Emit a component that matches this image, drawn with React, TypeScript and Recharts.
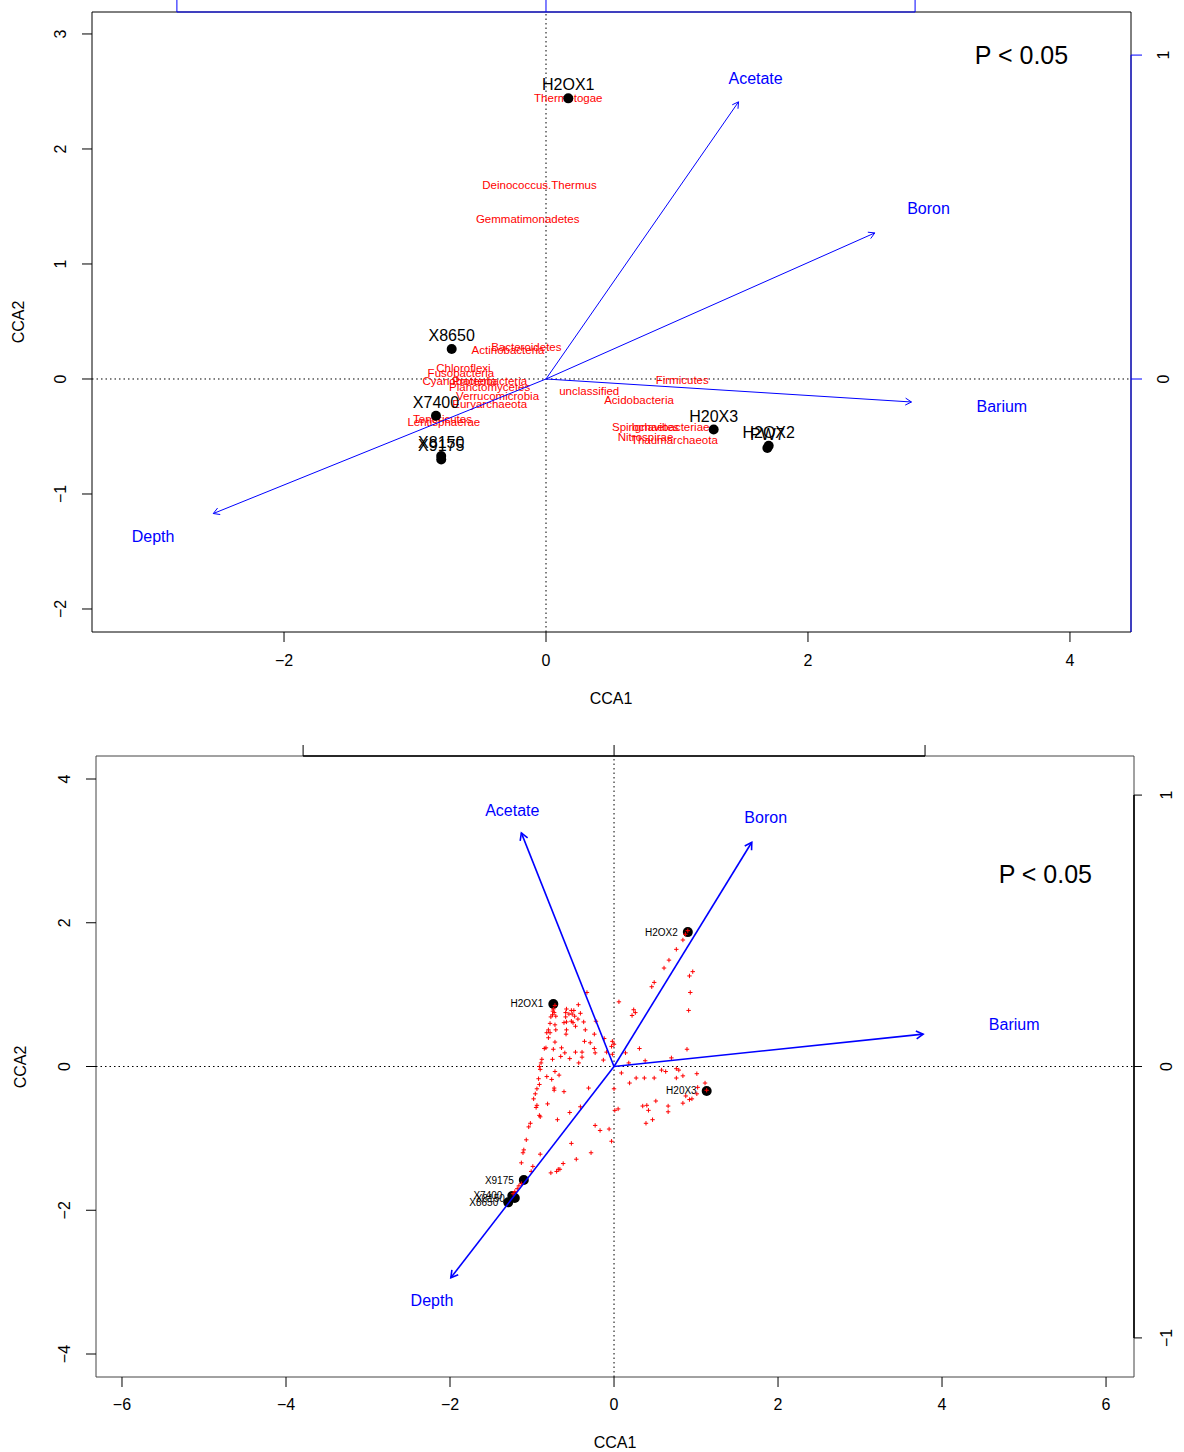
import React from 'react';
import {
  ScatterChart,
  Scatter,
  XAxis,
  YAxis,
  ReferenceLine,
  ReferenceArea,
  ReferenceDot,
} from 'recharts';

const FONT = '"Liberation Sans", Arial, Helvetica, sans-serif';
const BLUE = '#0000ff';
const RED = '#ff0000';

// ---------- upper panel (phylum scores) ----------
const upperSites = [
  { name: 'H2OX1', x: 0.17, y: 2.44 },
  { name: 'X8650', x: -0.72, y: 0.26 },
  { name: 'X7400', x: -0.84, y: -0.32 },
  { name: 'X8150', x: -0.8, y: -0.67 },
  { name: 'X9175', x: -0.8, y: -0.7 },
  { name: 'H20X3', x: 1.28, y: -0.44 },
  { name: 'H2OX2', x: 1.7, y: -0.58 },
  { name: 'PW7', x: 1.69, y: -0.6 },
];

const upperPhyla = [
  { name: 'Thermotogae', x: 0.17, y: 2.44 },
  { name: 'Deinococcus.Thermus', x: -0.05, y: 1.69 },
  { name: 'Gemmatimonadetes', x: -0.14, y: 1.39 },
  { name: 'Bacteroidetes', x: -0.15, y: 0.28 },
  { name: 'Actinobacteria', x: -0.29, y: 0.25 },
  { name: 'Chloroflexi', x: -0.63, y: 0.1 },
  { name: 'Fusobacteria', x: -0.65, y: 0.05 },
  { name: 'Cyanobacteria', x: -0.66, y: -0.02 },
  { name: 'Proteobacteria', x: -0.43, y: -0.02 },
  { name: 'Planctomycetes', x: -0.43, y: -0.07 },
  { name: 'Verrucomicrobia', x: -0.37, y: -0.15 },
  { name: 'Euryarchaeota', x: -0.43, y: -0.22 },
  { name: 'Tenericutes', x: -0.79, y: -0.35 },
  { name: 'Lentisphaerae', x: -0.78, y: -0.37 },
  { name: 'unclassified', x: 0.33, y: -0.1 },
  { name: 'Firmicutes', x: 1.04, y: -0.01 },
  { name: 'Acidobacteria', x: 0.71, y: -0.18 },
  { name: 'Spirochaetes', x: 0.76, y: -0.42 },
  { name: 'Ignavibacteriae', x: 0.95, y: -0.42 },
  { name: 'Nitrospirae', x: 0.76, y: -0.5 },
  { name: 'Thaumarchaeota', x: 0.98, y: -0.53 },
];

const upperEnv = [
  { name: 'Acetate', x: 1.47, y: 2.41 },
  { name: 'Boron', x: 2.51, y: 1.27 },
  { name: 'Barium', x: 2.79, y: -0.2 },
  { name: 'Depth', x: -2.54, y: -1.17 },
];

const upperEnvLabels = [
  { name: 'Acetate', x: 1.6, y: 2.61 },
  { name: 'Boron', x: 2.92, y: 1.48 },
  { name: 'Barium', x: 3.48, y: -0.24 },
  { name: 'Depth', x: -3.0, y: -1.37 },
];

// ---------- lower panel (OTU scores) ----------
const lowerSites = [
  { name: 'H2OX2', x: 0.9, y: 1.87 },
  { name: 'H2OX1', x: -0.74, y: 0.87 },
  { name: 'H20X3', x: 1.13, y: -0.34 },
  { name: 'X9175', x: -1.1, y: -1.58 },
  { name: 'X7400', x: -1.24, y: -1.8 },
  { name: 'X8150', x: -1.21, y: -1.83 },
  { name: 'X8650', x: -1.29, y: -1.89 },
];

const lowerEnv = [
  { name: 'Acetate', x: -1.13, y: 3.25 },
  { name: 'Boron', x: 1.68, y: 3.12 },
  { name: 'Barium', x: 3.77, y: 0.45 },
  { name: 'Depth', x: -1.99, y: -2.94 },
];

const lowerEnvLabels = [
  { name: 'Acetate', x: -1.24, y: 3.57 },
  { name: 'Boron', x: 1.85, y: 3.46 },
  { name: 'Barium', x: 4.88, y: 0.59 },
  { name: 'Depth', x: -2.22, y: -3.25 },
];

const lowerOtus: [number, number][] = [
  [0.49, 1.17], [0.46, 1.11], [-0.33, 1.03], [0.93, 1.03], [0.06, 0.9],
  [-0.72, 0.85], [-0.74, 0.8], [-0.745, 0.77], [-0.73, 0.75], [-0.75, 0.72],
  [-0.58, 0.8], [-0.435, 0.86], [-0.52, 0.78], [-0.49, 0.78], [-0.59, 0.75],
  [-0.55, 0.73], [-0.51, 0.73], [-0.41, 0.74], [-0.59, 0.69], [-0.48, 0.7],
  [-0.44, 0.66], [-0.52, 0.63], [-0.37, 0.62], [-0.58, 0.62], [-0.61, 0.61],
  [-0.5, 0.61], [-0.47, 0.56], [-0.77, 0.69], [-0.71, 0.7], [-0.78, 0.6],
  [-0.72, 0.58], [-0.8, 0.51], [-0.82, 0.47], [-0.78, 0.47], [-0.8, 0.4],
  [-0.71, 0.51], [-0.58, 0.51], [-0.585, 0.45], [-0.35, 0.51], [-0.22, 0.63],
  [-0.24, 0.45], [-0.12, 0.39], [-0.02, 0.35], [0.0, 0.31], [-0.03, 0.28],
  [-0.36, 0.35], [-0.29, 0.33], [-0.72, 0.34], [-0.83, 0.26], [-0.85, 0.25],
  [-0.74, 0.24], [-0.64, 0.26], [-0.47, 0.2], [-0.39, 0.2], [-0.6, 0.19],
  [-0.65, 0.14], [-0.54, 0.11], [-0.39, 0.13], [-0.23, 0.19], [-0.24, 0.25],
  [-0.09, 0.2], [-0.02, 0.17], [-0.13, 0.09], [-0.43, 0.05], [-0.75, 0.1],
  [-0.88, 0.1], [-0.89, 0.05], [-0.91, 0.0], [-0.9, -0.04], [-0.72, -0.07],
  [-0.67, -0.12], [-0.82, -0.14], [-0.92, -0.17], [-0.91, -0.25], [-0.94, -0.31],
  [-0.76, -0.18], [-0.73, -0.3], [-0.73, -0.33], [-0.61, -0.35], [-0.96, -0.38],
  [-0.98, -0.45], [-0.94, -0.54], [-0.95, -0.57], [-0.81, -0.52], [-0.41, -0.56],
  [-0.91, -0.68], [-0.9, -0.7], [-0.54, -0.64], [-0.69, -0.74], [-1.02, -0.79],
  [-1.04, -0.84], [-1.07, -1.02], [-1.1, -1.16], [-1.11, -1.2], [-0.9, -1.22],
  [-0.52, -1.07], [-0.28, -1.2], [-0.46, -1.29], [-0.62, -1.35], [-0.68, -1.43],
  [-0.7, -1.46], [-0.66, -1.43], [-0.77, -1.48], [-1.13, -1.34], [-0.99, -1.39],
  [-1.01, -1.46], [-0.31, -0.3], [-0.23, -0.82], [-0.17, -0.89], [-0.06, -0.87],
  [-0.03, -1.04], [0.01, -0.61], [0.05, -0.59], [0.0, -0.31],
  [0.24, 0.79], [0.26, 0.75], [0.22, 0.71], [0.31, 0.25], [0.14, 0.19],
  [0.18, 0.05], [0.38, 0.08], [0.7, 0.12], [0.89, 0.24], [0.91, 0.78],
  [0.58, -0.05], [0.63, -0.07], [0.76, -0.03], [0.79, -0.05], [0.84, -0.13],
  [0.76, -0.16], [1.01, -0.1], [1.11, -0.23], [0.27, -0.16], [0.37, -0.16],
  [0.49, -0.16], [0.09, -0.09], [0.19, -0.23], [0.875, -0.41], [0.92, -0.46],
  [0.95, -0.45], [0.84, -0.51], [0.51, -0.48], [0.4, -0.54], [0.35, -0.55],
  [0.42, -0.61], [0.66, -0.55], [0.66, -0.63], [0.47, -0.74], [0.39, -0.79],
  [1.02, -0.29], [1.01, -0.38], [1.13, -0.33],
  [0.9, 1.89], [0.87, 1.84], [0.84, 1.76], [0.76, 1.63], [0.67, 1.48],
  [0.61, 1.37], [0.96, 1.32], [0.92, 1.26],
  [-1.23, -1.77], [-1.21, -1.74], [-1.18, -1.7], [-1.16, -1.66], [-1.13, -1.63],
];

const lowerOtuPoints = lowerOtus.map(([x, y]) => ({ x, y }));

// ---------- helpers ----------
const fmt = (v: number) => (v < 0 ? '\u2212' + Math.abs(v) : String(v));

const xTick = (p: any) => (
  <text x={p.x} y={p.y} dy="0.71em" textAnchor="middle" fontSize={16} fontFamily={FONT} fill="#000">
    {fmt(p.payload.value)}
  </text>
);

const yTick = (p: any) => (
  <text
    x={p.x}
    y={p.y}
    textAnchor="middle"
    fontSize={16}
    fontFamily={FONT}
    fill="#000"
    transform={`rotate(-90 ${p.x} ${p.y})`}
  >
    {fmt(p.payload.value)}
  </text>
);

const arrowShape = (color: string, w: number, head: number) => (p: any) => {
  const { x1, y1, x2, y2 } = p;
  const ang = Math.atan2(y2 - y1, x2 - x1);
  const a1 = ang + Math.PI - Math.PI / 6;
  const a2 = ang + Math.PI + Math.PI / 6;
  return (
    <g>
      <line x1={x1} y1={y1} x2={x2} y2={y2} stroke={color} strokeWidth={w} />
      <path
        d={`M${x2 + head * Math.cos(a1)},${y2 + head * Math.sin(a1)}L${x2},${y2}L${x2 + head * Math.cos(a2)},${y2 + head * Math.sin(a2)}`}
        fill="none"
        stroke={color}
        strokeWidth={w}
      />
    </g>
  );
};

const upperCfg = {
  top: 0,
  height: 720,
  leftW: 92,
  rightW: 53,
  topH: 12,
  bottomH: 88,
  xDomain: [-3.466, 4.466],
  yDomain: [-2.2, 3.191],
  xTicks: [-2, 0, 2, 4],
  yTicks: [-2, -1, 0, 1, 2, 3],
  topDomain: [-1.23, 1.585],
  topTicks: [-1, 0, 1],
  rightDomain: [-0.781, 1.133],
  rightTicks: [0, 1],
  topTick: 12,
  rightTick: 11,
  rightMargin: 27,
  xTickMargin: 13,
  secColor: BLUE,
  secWidth: 1,
  rightLine: [1, -0.781],
  boxColor: '#000',
  xTitle: [611, 704],
  yTitle: [24, 322],
  pAt: { x: 3.63, y: 2.82 },
  arrowWidth: 1,
  arrowHead: 7,
};

const lowerCfg = {
  top: 726,
  height: 726,
  leftW: 96,
  rightW: 50,
  topH: 30,
  bottomH: 75,
  xDomain: [-6.317, 6.341],
  yDomain: [-4.32, 4.32],
  xTicks: [-6, -4, -2, 0, 2, 4, 6],
  yTicks: [-4, -2, 0, 2, 4],
  topDomain: [-1.666, 1.672],
  topTicks: [-1, 0, 1],
  rightDomain: [-1.144, 1.144],
  rightTicks: [-1, 0, 1],
  topTick: 11,
  rightTick: 8,
  rightMargin: 30,
  xTickMargin: 12,
  secColor: '#000',
  secWidth: 1.6,
  rightLine: [-1, 1],
  boxColor: '#444',
  xTitle: [615, 722],
  yTitle: [26, 341],
  pAt: { x: 5.26, y: 2.68 },
  arrowWidth: 1.6,
  arrowHead: 8,
};

// map a value of the secondary (top) axis onto the main x axis
const topToMain = (c: any, v: number) =>
  c.xDomain[0] + ((v - c.topDomain[0]) / (c.topDomain[1] - c.topDomain[0])) * (c.xDomain[1] - c.xDomain[0]);

function Biplot({ cfg, children }: { cfg: any; children: React.ReactNode }) {
  const c = cfg;
  const plotH = c.height - c.topH - c.bottomH;
  const yTop = c.yDomain[1];
  // length of the top tick marks expressed in y units
  const tickUp = (c.topTick * (c.yDomain[1] - c.yDomain[0])) / plotH;
  return (
    <div style={{ position: 'absolute', left: 0, top: c.top, width: 1184, height: c.height }}>
      <ScatterChart width={1184} height={c.height} margin={{ top: 0, right: 0, bottom: 0, left: 0 }}>
        <XAxis
          type="number"
          dataKey="x"
          domain={c.xDomain}
          ticks={c.xTicks}
          allowDataOverflow
          axisLine={false}
          tickLine={{ stroke: '#000' }}
          tickSize={10}
          tickMargin={c.xTickMargin}
          height={c.bottomH}
          tick={xTick}
          label={() => (
            <text x={c.xTitle[0]} y={c.xTitle[1]} textAnchor="middle" fontSize={16} fontFamily={FONT} fill="#000">
              CCA1
            </text>
          )}
        />
        <YAxis
          type="number"
          dataKey="y"
          domain={c.yDomain}
          ticks={c.yTicks}
          allowDataOverflow
          axisLine={false}
          tickLine={{ stroke: '#000' }}
          tickSize={10}
          tickMargin={16}
          width={c.leftW}
          tick={yTick}
          label={() => (
            <text
              x={c.yTitle[0]}
              y={c.yTitle[1]}
              textAnchor="middle"
              fontSize={16}
              fontFamily={FONT}
              fill="#000"
              transform={`rotate(-90 ${c.yTitle[0]} ${c.yTitle[1]})`}
            >
              CCA2
            </text>
          )}
        />
        <XAxis
          xAxisId="top"
          orientation="top"
          type="number"
          domain={c.topDomain}
          ticks={c.topTicks}
          allowDataOverflow
          axisLine={false}
          tick={false}
          tickLine={false}
          height={c.topH}
        />
        <YAxis
          yAxisId="right"
          orientation="right"
          type="number"
          domain={c.rightDomain}
          ticks={c.rightTicks}
          allowDataOverflow
          axisLine={false}
          tickLine={{ stroke: c.secColor, strokeWidth: 1 }}
          tickSize={c.rightTick}
          tickMargin={c.rightMargin}
          width={c.rightW}
          tick={yTick}
        />
        <ReferenceArea
          x1={c.xDomain[0]}
          x2={c.xDomain[1]}
          y1={c.yDomain[0]}
          y2={c.yDomain[1]}
          fill="none"
          stroke={c.boxColor}
          strokeWidth={1}
          ifOverflow="visible"
        />
        <ReferenceLine x={0} stroke="#000" strokeDasharray="1.5 3" />
        <ReferenceLine y={0} stroke="#000" strokeDasharray="1.5 3" />
        <ReferenceLine
          yAxisId="right"
          segment={[
            { x: c.xDomain[1], y: c.rightLine[0] },
            { x: c.xDomain[1], y: c.rightLine[1] },
          ]}
          stroke={c.secColor}
          strokeWidth={c.secWidth}
          ifOverflow="visible"
        />
        <ReferenceLine
          segment={[
            { x: topToMain(c, c.topTicks[0]), y: yTop },
            { x: topToMain(c, c.topTicks[c.topTicks.length - 1]), y: yTop },
          ]}
          stroke={c.secColor}
          strokeWidth={c.secWidth}
          ifOverflow="visible"
          zIndex={650}
        />
        {c.topTicks.map((t: number) => (
          <ReferenceLine
            key={`tt${t}`}
            segment={[
              { x: topToMain(c, t), y: yTop },
              { x: topToMain(c, t), y: yTop + tickUp },
            ]}
            stroke={c.secColor}
            strokeWidth={1}
            ifOverflow="visible"
          />
        ))}
        {children}
        <ReferenceDot
          x={c.pAt.x}
          y={c.pAt.y}
          r={0}
          fill="none"
          stroke="none"
          label={{ value: 'P < 0.05', position: 'center', fontSize: 25, fill: '#000', fontFamily: FONT }}
        />
      </ScatterChart>
    </div>
  );
}

function envArrows(env: { name: string; x: number; y: number }[], cfg: any) {
  return env.map((e) => (
    <ReferenceLine
      key={e.name}
      segment={[
        { x: 0, y: 0 },
        { x: e.x, y: e.y },
      ]}
      zIndex={700}
      ifOverflow="visible"
      shape={arrowShape(BLUE, cfg.arrowWidth, cfg.arrowHead)}
    />
  ));
}

const envLabelShape = (p: any) => (
  <text x={p.cx} y={p.cy} dy="0.35em" textAnchor="middle" fontSize={16} fontFamily={FONT} fill={BLUE}>
    {p.payload.name}
  </text>
);

export default function App() {
  return (
    <div style={{ position: 'absolute', left: 0, top: 0, width: 1184, height: 1452, background: '#fff' }}>
      <Biplot cfg={upperCfg}>
        <Scatter
          data={upperPhyla}
          isAnimationActive={false}
          shape={(p: any) => (
            <text x={p.cx} y={p.cy} dy="0.35em" textAnchor="middle" fontSize={11.5} fontFamily={FONT} fill={RED}>
              {p.payload.name}
            </text>
          )}
        />
        <Scatter
          data={upperSites}
          isAnimationActive={false}
          shape={(p: any) => (
            <g>
              <circle cx={p.cx} cy={p.cy} r={5} fill="#000" />
              <text x={p.cx} y={p.cy - 8} textAnchor="middle" fontSize={16} fontFamily={FONT} fill="#000">
                {p.payload.name}
              </text>
            </g>
          )}
        />
        {envArrows(upperEnv, upperCfg)}
        <Scatter data={upperEnvLabels} isAnimationActive={false} shape={envLabelShape} />
      </Biplot>
      <Biplot cfg={lowerCfg}>
        <Scatter
          data={lowerSites}
          isAnimationActive={false}
          shape={(p: any) => (
            <g>
              <circle cx={p.cx} cy={p.cy} r={5} fill="#000" />
              <text x={p.cx - 10} y={p.cy} dy="0.35em" textAnchor="end" fontSize={10} fontFamily={FONT} fill="#000">
                {p.payload.name}
              </text>
            </g>
          )}
        />
        <Scatter
          data={lowerOtuPoints}
          isAnimationActive={false}
          shape={(p: any) => (
            <path
              d={`M${p.cx - 2.2},${p.cy}h4.4M${p.cx},${p.cy - 2.2}v4.4`}
              stroke={RED}
              strokeWidth={1}
              fill="none"
            />
          )}
        />
        {envArrows(lowerEnv, lowerCfg)}
        <Scatter data={lowerEnvLabels} isAnimationActive={false} shape={envLabelShape} />
      </Biplot>
    </div>
  );
}
